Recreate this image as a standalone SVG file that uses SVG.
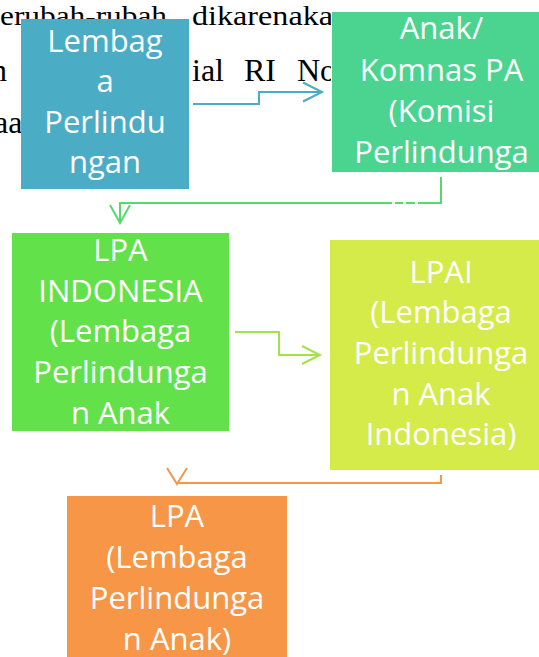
<svg xmlns="http://www.w3.org/2000/svg" width="539" height="657" viewBox="0 0 539 657">
  <style>
    .bg { font-family: "Liberation Serif", "Times New Roman", serif; fill: #000000; }
    .bg1 { font-size: 28px; }
    .bg2 { font-size: 32px; }
    .lbl { font-family: "Open Sans", "Liberation Sans", sans-serif; font-size: 31px; fill: #ffffff; text-anchor: middle; }
    .conn { fill: none; stroke-width: 2; }
  </style>
  <defs>
    <clipPath id="bgclip"><rect x="0" y="0" width="331" height="657"/></clipPath>
    <marker id="ahBlue" markerUnits="userSpaceOnUse" markerWidth="24" markerHeight="24" refX="19" refY="10" orient="auto" overflow="visible">
      <path d="M0,0.5 L19,10 L0,19.5" fill="none" stroke="#4BACC6" stroke-width="2"/>
    </marker>
    <marker id="ahGreen" markerUnits="userSpaceOnUse" markerWidth="24" markerHeight="24" refX="18" refY="10" orient="auto" overflow="visible">
      <path d="M0,0 L18,10 L0,20" fill="none" stroke="#55D86E" stroke-width="2"/>
    </marker>
    <marker id="ahLime" markerUnits="userSpaceOnUse" markerWidth="24" markerHeight="24" refX="18" refY="9" orient="auto" overflow="visible">
      <path d="M0,0 L18,9 L0,18" fill="none" stroke="#A3E24B" stroke-width="2"/>
    </marker>
    <marker id="ahOrange" markerUnits="userSpaceOnUse" markerWidth="24" markerHeight="24" refX="16" refY="10" orient="auto" overflow="visible">
      <path d="M0,0 L16,10 L0,20" fill="none" stroke="#F4974E" stroke-width="2"/>
    </marker>
  </defs>

  <rect x="0" y="0" width="539" height="657" fill="#ffffff"/>

  <!-- background document text partly covered by the diagram -->
  <g id="background-text" clip-path="url(#bgclip)">
    <text class="bg bg1" x="0" y="25" textLength="167" lengthAdjust="spacingAndGlyphs">erubah-rubah</text>
    <text class="bg bg1" x="192" y="25" textLength="141" lengthAdjust="spacingAndGlyphs">dikarenaka</text>
    <text class="bg bg2" x="-9" y="81">n</text>
    <text class="bg bg2" x="192" y="81">ial</text>
    <text class="bg bg2" x="244" y="81">RI</text>
    <text class="bg bg2" x="297" y="81">No</text>
    <text class="bg bg2" x="-6" y="133">aan</text>
  </g>

  <g id="connectors">
    <path class="conn" stroke="#4BACC6" d="M193,104 H259 V92 H322" marker-end="url(#ahBlue)"/>
    <path class="conn" stroke="#55D86E" d="M441,177 V203 H120 V223" marker-end="url(#ahGreen)"/>
    <rect x="392" y="201" width="3" height="4" fill="#ffffff"/>
    <rect x="403" y="201" width="3" height="4" fill="#ffffff"/>
    <rect x="415" y="201" width="3" height="4" fill="#ffffff"/>
    <path class="conn" stroke="#A3E24B" d="M235,332 H279 V355 H320" marker-end="url(#ahLime)"/>
    <path class="conn" stroke="#F4974E" d="M441,475 V483 H177 V484" marker-end="url(#ahOrange)"/>
  </g>

  <g id="node-lembaga">
    <rect x="21" y="19" width="168" height="170" fill="#4BACC6"/>
    <text class="lbl" x="105" y="52">Lembag</text>
    <text class="lbl" x="105" y="92">a</text>
    <text class="lbl" x="105" y="133">Perlindu</text>
    <text class="lbl" x="105" y="173">ngan</text>
  </g>

  <g id="node-komnas">
    <rect x="332" y="12" width="219" height="160" fill="#4BD48F"/>
    <text class="lbl" x="441.5" y="39">Anak/</text>
    <text class="lbl" x="441.5" y="81">Komnas PA</text>
    <text class="lbl" x="441.5" y="122">(Komisi</text>
    <text class="lbl" x="441.5" y="163">Perlindunga</text>
  </g>

  <g id="node-lpa-indonesia">
    <rect x="12" y="233" width="217" height="198" fill="#62E14A"/>
    <text class="lbl" x="120.5" y="261">LPA</text>
    <text class="lbl" x="120.5" y="302">INDONESIA</text>
    <text class="lbl" x="120.5" y="342">(Lembaga</text>
    <text class="lbl" x="120.5" y="383">Perlindunga</text>
    <text class="lbl" x="120.5" y="424">n Anak</text>
  </g>

  <g id="node-lpai">
    <rect x="330" y="240" width="222" height="230" fill="#D4EB49"/>
    <text class="lbl" x="441" y="283">LPAI</text>
    <text class="lbl" x="441" y="323">(Lembaga</text>
    <text class="lbl" x="441" y="364">Perlindunga</text>
    <text class="lbl" x="441" y="405">n Anak</text>
    <text class="lbl" x="441" y="445">Indonesia)</text>
  </g>

  <g id="node-lpa">
    <rect x="67" y="496" width="220" height="175" fill="#F79646"/>
    <text class="lbl" x="177" y="527">LPA</text>
    <text class="lbl" x="177" y="568">(Lembaga</text>
    <text class="lbl" x="177" y="609">Perlindunga</text>
    <text class="lbl" x="177" y="650">n Anak)</text>
  </g>
</svg>
